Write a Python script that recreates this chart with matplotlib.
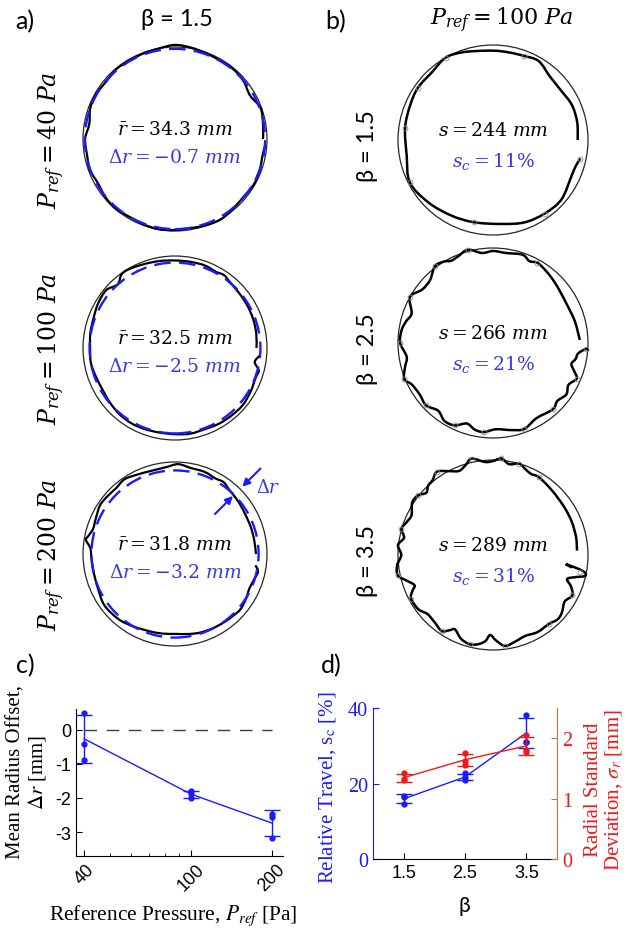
import numpy as np
import matplotlib
matplotlib.use("Agg")
import matplotlib.pyplot as plt
from matplotlib.path import Path
from matplotlib.patches import PathPatch, Circle
from matplotlib.ticker import LogLocator, NullFormatter, FixedLocator

W, H = 626, 929
plt.rcParams["axes.unicode_minus"] = False

SANS = ["Lato", "DejaVu Sans"]
SERIF = "Liberation Serif"
BLUE = "#1a1aff"
TXT_BLUE = "#3838e8"
RED = "#f01818"
ORANGE = "#dc6a45"

R_NOM = 35.0  # nominal tube radius [mm]

# ---- panel a: beta = 1.5, three reference pressures ----
a_labels = ["40", "100", "200"]
a_mean_r = [34.3, 32.5, 31.8]
a_offset = [-0.7, -2.5, -3.2]

a1_ang = [0, 10, 20, 30, 40, 50, 60, 70, 80, 90, 100, 110, 120, 130, 140, 150, 160, 170,
          180, 190, 200, 210, 220, 230, 240, 250, 260, 270, 280, 290, 300, 310, 320, 330,
          340, 350, 356]
a1_r = [33.5, 34.0, 34.6, 33.0, 34.1, 34.6, 34.4, 34.7, 35.3, 35.8, 35.0, 34.7, 34.5,
        34.7, 34.1, 34.5, 34.3, 33.1, 34.2, 34.0, 34.4, 33.8, 34.5, 34.8, 34.3, 34.6,
        34.9, 34.6, 34.4, 34.9, 35.2, 34.5, 34.1, 34.6, 34.3, 33.9, 34.4]

a2_ang = [0, 10, 20, 30, 40, 50, 56, 62, 70, 80, 90, 100, 110, 120, 126, 132, 140, 150,
          160, 170, 180, 190, 200, 210, 220, 230, 240, 250, 260, 270, 280, 290, 300, 310,
          320, 330, 340, 345, 350, 355]
a2_r = [31.0, 31.4, 31.7, 31.9, 32.1, 32.6, 33.4, 32.9, 33.4, 33.3, 33.3, 33.6, 34.0, 34.7,
        34.6, 32.6, 34.2, 33.8, 33.0, 32.7, 32.3, 32.5, 32.0, 31.8, 32.3, 32.9, 33.1, 32.9,
        32.7, 32.8, 33.1, 32.9, 33.3, 33.5, 33.7, 33.2, 32.7, 33.0, 30.8, 32.4]

a3_ang = [0, 10, 20, 30, 40, 50, 56, 62, 70, 80, 88, 96, 106, 115, 124, 132, 139, 147,
          156, 163, 168, 171, 176, 183, 193, 204, 216, 229, 240, 253, 262, 270, 280, 288,
          297, 306, 314, 320, 328, 335, 342, 348, 352]
a3_r = [30.8, 30.6, 30.6, 30.7, 31.3, 32.0, 33.0, 32.6, 33.2, 33.3, 34.2, 33.2, 32.9, 33.4,
        34.3, 33.6, 33.8, 34.0, 33.0, 32.6, 33.6, 34.3, 32.3, 31.8, 31.7, 32.1, 33.2, 32.8,
        31.8, 30.9, 30.6, 30.4, 30.9, 31.4, 31.7, 32.0, 32.3, 32.6, 31.9, 31.2, 31.6, 32.3,
        30.9]

# ---- panel b: P_ref = 100 Pa, three beta values ----
b_labels = ["1.5", "2.5", "3.5"]
b_travel = [244, 266, 289]
b_sc = [11, 21, 31]

b1_ang = [0, 12, 24, 36, 48, 60, 70, 80, 89, 100, 110, 120, 132, 145, 157, 172, 190, 207,
          224, 241, 257, 276, 291, 305, 319, 336, 343, 348]
b1_r = [31.2, 31.7, 31.8, 31.0, 31.4, 33.6, 33.0, 32.8, 32.9, 33.3, 34.3, 35.0, 33.6, 33.7,
        33.1, 32.7, 32.3, 34.4, 33.1, 31.8, 31.1, 31.1, 32.5, 33.1, 33.4, 31.8, 32.0, 32.9]
b1_mk_ang = [70, 120, 145, 172, 207, 257, 305, 348]
b1_mk_r = [33.0, 35.0, 33.7, 32.7, 34.4, 31.1, 33.1, 32.9]

b2_ang = [2, 15, 28, 38, 46.5, 54, 61, 66, 71.5, 82, 90, 97, 105, 112, 117, 121, 127, 135,
          143, 151, 160, 166, 172, 180, 189, 195, 202, 207, 215, 223, 231, 238, 245, 252,
          258, 264, 272, 282, 290, 300, 312, 318, 325, 331, 337, 341, 345, 349, 353, 356.5,
          355]
b2_r = [32.0, 31.2, 30.7, 31.2, 32.1, 33.0, 33.8, 33.0, 34.3, 33.5, 33.9, 33.4, 35.6, 34.4,
        34.0, 35.0, 35.5, 32.8, 32.7, 35.0, 31.9, 33.0, 34.0, 34.2, 32.2, 33.5, 35.3, 33.6,
        33.0, 33.7, 32.1, 33.8, 33.5, 31.2, 32.6, 33.0, 31.8, 32.8, 33.7, 32.0, 32.9, 31.9,
        33.0, 31.8, 33.5, 31.6, 29.9, 31.0, 31.6, 34.5, 35.2]
b2_mk_ang = [61, 105, 127, 151, 180, 202, 223, 245, 264, 290, 312, 337, 356.5]
b2_mk_r = [33.8, 35.6, 35.5, 35.0, 34.2, 35.3, 33.7, 33.5, 33.0, 33.7, 32.9, 33.5, 34.5]

b3_ang = [3, 12, 22.5, 32, 40.6, 50, 59.7, 65, 70, 74, 80, 85, 90, 95, 102.5, 107, 112,
          118, 124, 129, 133, 137, 141.5, 147, 154, 159, 164, 169, 174, 180, 186, 192, 196,
          201, 204, 208, 216, 222, 229, 236, 240, 243, 249, 255.5, 261, 265, 268, 272, 277.5,
          284, 291.6, 300, 309, 315, 320, 327, 333, 338, 342, 345, 347.3, 350, 352.9, 351]
b3_r = [31.0, 31.3, 31.5, 31.6, 31.8, 32.4, 33.3, 33.0, 34.0, 35.0, 34.0, 35.7, 34.6, 34.4,
        36.4, 34.6, 33.4, 35.0, 37.0, 35.4, 35.0, 33.6, 35.3, 35.5, 33.4, 34.0, 35.1, 33.4,
        35.2, 33.8, 35.5, 35.9, 33.5, 31.0, 32.5, 34.2, 34.0, 32.5, 32.8, 33.8, 32.0, 30.8,
        33.0, 34.0, 33.2, 31.8, 29.5, 31.5, 33.8, 33.0, 32.1, 32.8, 32.7, 33.6, 33.1, 31.5,
        32.8, 31.0, 28.7, 31.5, 34.9, 33.5, 27.0, 29.5]
b3_mk_ang = [59.7, 74, 85, 102.5, 124, 141.5, 164, 192, 208, 236, 255.5, 277.5, 309, 333, 349]
b3_mk_r = [33.3, 35.0, 35.7, 36.4, 37.0, 35.3, 35.1, 35.9, 34.2, 33.8, 34.0, 33.8, 32.7,
           32.8, 32.6]

# ---- panel c: mean radius offset vs reference pressure (3 runs each) ----
c_pressure = [40, 100, 200]
c_offset_runs = [[0.49, -0.41, -0.90], [-1.79, -1.89, -1.99], [-2.48, -2.56, -3.17]]

# ---- panel d: relative travel and radial std vs beta (3 runs each) ----
d_beta = [1.5, 2.5, 3.5]
d_travel_runs = [[16.8, 14.6, 16.4], [22.7, 21.6, 20.9], [38.1, 31.1, 31.0]]
d_sigma_runs = [[1.42, 1.32, 1.30], [1.75, 1.62, 1.56], [2.05, 1.80, 1.77]]


def px_axes(fig, left, top, right, bottom):
    return fig.add_axes([left / W, 1 - bottom / H, (right - left) / W, (bottom - top) / H])


def polar_xy(ang, r):
    t = np.deg2rad(np.asarray(ang, dtype=float))
    r = np.asarray(r, dtype=float)
    return r * np.cos(t), r * np.sin(t)


def smooth_path(x, y):
    # Catmull-Rom through the read points, drawn as cubic Bezier segments
    pts = np.column_stack([x, y])
    p = np.vstack([pts[0], pts, pts[-1]])
    verts, codes = [pts[0]], [Path.MOVETO]
    for i in range(1, len(p) - 2):
        c1 = p[i] + (p[i + 1] - p[i - 1]) / 6
        c2 = p[i + 1] - (p[i + 2] - p[i]) / 6
        verts += [c1, c2, p[i + 1]]
        codes += [Path.CURVE4] * 3
    return Path(verts, codes)


def circle_axes(fig, cx, cy, px_per_mm):
    half = 40 * px_per_mm
    ax = px_axes(fig, cx - half, cy - half, cx + half, cy + half)
    ax.set_xlim(-40, 40)
    ax.set_ylim(-40, 40)
    ax.set_aspect("equal")
    ax.axis("off")
    ax.add_patch(Circle((0, 0), R_NOM, fill=False, lw=0.9, ec="0.15"))
    return ax


fig = plt.figure(figsize=(W / 100, H / 100), dpi=100)

# ---------------- panel a ----------------
a_traces = [(a1_ang, a1_r), (a2_ang, a2_r), (a3_ang, a3_r)]
a_cy = [140, 349, 555]
for i, (ang, r) in enumerate(a_traces):
    ax = circle_axes(fig, 175, a_cy[i], 92 / 35)
    x, y = polar_xy(ang, r)
    ax.add_patch(PathPatch(smooth_path(x, y), fill=False, lw=1.6, ec="black"))
    ax.add_patch(Circle((0, 0), a_mean_r[i], fill=False, lw=1.7, ec=BLUE,
                        ls=(0, (7, 3.5))))
    ax.text(0, 4, rf"$\bar{{r}} = {a_mean_r[i]}\ mm$", ha="center", va="center",
            fontsize=13.5, math_fontfamily="dejavuserif")
    ax.text(0, -6.5, rf"$\Delta r = -{abs(a_offset[i])}\ mm$", ha="center", va="center",
            fontsize=13.5, color=TXT_BLUE, math_fontfamily="dejavuserif")
    fig.text(52 / W, 1 - a_cy[i] / H, rf"$P_{{ref}} = {a_labels[i]}\ Pa$", rotation=90,
             ha="center", va="center", fontsize=17, math_fontfamily="dejavuserif")
    if i == 2:
        d = np.cos(np.pi / 4)
        ax.annotate("", xy=(36.2 * d, 36.2 * d), xytext=(46 * d, 46 * d),
                    arrowprops=dict(arrowstyle="-|>", color=BLUE, lw=1.5,
                                    mutation_scale=11, shrinkA=0, shrinkB=0),
                    annotation_clip=False)
        ax.annotate("", xy=(31.2 * d, 31.2 * d), xytext=(21.5 * d, 21.5 * d),
                    arrowprops=dict(arrowstyle="-|>", color=BLUE, lw=1.5,
                                    mutation_scale=11, shrinkA=0, shrinkB=0),
                    annotation_clip=False)
        ax.text(35.5, 25.5, r"$\Delta r$", color=TXT_BLUE, fontsize=13, ha="center",
                va="center", math_fontfamily="dejavuserif", clip_on=False)

# ---------------- panel b ----------------
b_traces = [(b1_ang, b1_r, b1_mk_ang, b1_mk_r), (b2_ang, b2_r, b2_mk_ang, b2_mk_r),
            (b3_ang, b3_r, b3_mk_ang, b3_mk_r)]
b_cy = [141, 344, 556]
for i, (ang, r, mang, mr) in enumerate(b_traces):
    ax = circle_axes(fig, 493, b_cy[i], 95 / 35)
    x, y = polar_xy(ang, r)
    ax.add_patch(PathPatch(smooth_path(x, y), fill=False, lw=1.8, ec="black"))
    mx, my = polar_xy(mang, mr)
    ax.plot(mx, my, "o", mfc="none", mec="0.55", ms=3.5, mew=0.6)
    ax.text(0, 4, rf"$s = {b_travel[i]}\ mm$", ha="center", va="center",
            fontsize=13.5, math_fontfamily="dejavuserif")
    ax.text(0, -7.5, rf"$s_c = {b_sc[i]}\%$", ha="center", va="center",
            fontsize=13.5, color=TXT_BLUE, math_fontfamily="dejavuserif")
    fig.text(368 / W, 1 - (b_cy[i] + 5) / H, f"β = {b_labels[i]}", rotation=90,
             ha="center", va="center", fontsize=17, family=SANS)

# headers
fig.text(25 / W, 1 - 22 / H, "a)", ha="center", va="center", fontsize=18, family=SANS)
fig.text(177 / W, 1 - 20 / H, "β = 1.5", ha="center", va="center", fontsize=17, family=SANS)
fig.text(336 / W, 1 - 22 / H, "b)", ha="center", va="center", fontsize=18, family=SANS)
fig.text(502 / W, 1 - 20 / H, r"$P_{ref} = 100\ Pa$", ha="center", va="center",
         fontsize=16, math_fontfamily="dejavuserif")
fig.text(25 / W, 1 - 666 / H, "c)", ha="center", va="center", fontsize=18, family=SANS)
fig.text(331 / W, 1 - 666 / H, "d)", ha="center", va="center", fontsize=18, family=SANS)

# ---------------- panel c ----------------
axc = px_axes(fig, 76, 710, 283, 857)
for x, runs in zip(c_pressure, c_offset_runs):
    axc.plot([x] * len(runs), runs, "o", color=BLUE, ms=3.5)
c_mean = [np.mean(r) for r in c_offset_runs]
c_sd = [np.std(r, ddof=1) for r in c_offset_runs]
axc.errorbar(c_pressure, c_mean, yerr=c_sd, color=BLUE, lw=1, capsize=5.5, capthick=1)
axc.plot([c_pressure[0], c_pressure[-1]], [0, 0], color="0.25", lw=1, ls=(0, (9, 7)))
axc.set_xscale("log")
axc.set_xlim(37.3, 220)
axc.set_ylim(-3.7, 0.6)
axc.xaxis.set_major_locator(FixedLocator(c_pressure))
axc.xaxis.set_minor_locator(LogLocator(subs=np.arange(2, 10)))
axc.xaxis.set_minor_formatter(NullFormatter())
axc.set_xticklabels([str(p) for p in c_pressure], rotation=45, family="Liberation Sans",
                    fontsize=13)
axc.set_yticks([-3, -2, -1, 0])
axc.set_yticklabels(["-3", "-2", "-1", "0"], family="Liberation Sans", fontsize=13)
axc.tick_params(direction="in", length=4, which="major")
axc.tick_params(direction="in", length=2.5, which="minor")
axc.spines[["top", "right"]].set_visible(False)
fig.text(27 / W, 1 - 772 / H, "Mean Radius Offset,\n" + r"$\Delta r$ [mm]", rotation=90,
         ha="center", va="center", fontsize=15, family=SERIF, multialignment="center",
         linespacing=1.05, math_fontfamily="stix")
fig.text(173 / W, 1 - 916 / H, r"Reference Pressure, $P_{ref}$ [Pa]", ha="center",
         va="center", fontsize=15.5, family=SERIF, math_fontfamily="stix")

# ---------------- panel d ----------------
axd = px_axes(fig, 373, 709, 557, 860)
axd2 = axd.twinx()
for x, runs in zip(d_beta, d_travel_runs):
    axd.plot([x] * len(runs), runs, "o", color=BLUE, ms=3.5)
axd.errorbar(d_beta, [np.mean(r) for r in d_travel_runs],
             yerr=[np.std(r, ddof=1) for r in d_travel_runs],
             color=BLUE, lw=1, capsize=5.5, capthick=1)
for x, runs in zip(d_beta, d_sigma_runs):
    axd2.plot([x] * len(runs), runs, "o", color=RED, ms=3.5)
axd2.errorbar(d_beta, [np.mean(r) for r in d_sigma_runs],
              yerr=[np.std(r, ddof=1) for r in d_sigma_runs],
              color=RED, lw=1, capsize=5.5, capthick=1)
axd.set_xlim(1, 4)
axd.set_ylim(0, 40)
axd2.set_ylim(0, 2.5)
axd.set_xticks(d_beta)
axd.set_xticklabels([str(b) for b in d_beta], family="Liberation Sans", fontsize=13)
axd.set_yticks([0, 20, 40])
axd.set_yticklabels(["0", "20", "40"], family=SERIF, fontsize=14.5, color=BLUE)
axd2.set_yticks([0, 1, 2])
axd2.set_yticklabels(["0", "1", "2"], family=SERIF, fontsize=14.5, color=RED)
axd.tick_params(direction="in", length=4)
axd.tick_params(axis="y", colors=BLUE, labelcolor=BLUE)
axd2.tick_params(direction="in", length=4, colors=ORANGE, labelcolor=RED)
axd.spines[["top", "right"]].set_visible(False)
axd.spines["left"].set_color(BLUE)
axd2.spines[["top", "left", "bottom"]].set_visible(False)
axd2.spines["right"].set_color(ORANGE)
fig.text(328 / W, 1 - 788 / H, r"Relative Travel, s$_{\rm c}$ [%]", rotation=90,
         ha="center", va="center", fontsize=15, family=SERIF, color=BLUE,
         math_fontfamily="stix")
fig.text(604 / W, 1 - 790 / H, "Radial Standard\n" + r"Deviation, $\sigma_r$ [mm]",
         rotation=90, ha="center", va="center", fontsize=15, family=SERIF, color=RED,
         multialignment="center", linespacing=1.0, math_fontfamily="stix")
fig.text(464 / W, 1 - 906 / H, "β", ha="center", va="center", fontsize=15, family=SANS)

fig.savefig("out.png", dpi=100)
